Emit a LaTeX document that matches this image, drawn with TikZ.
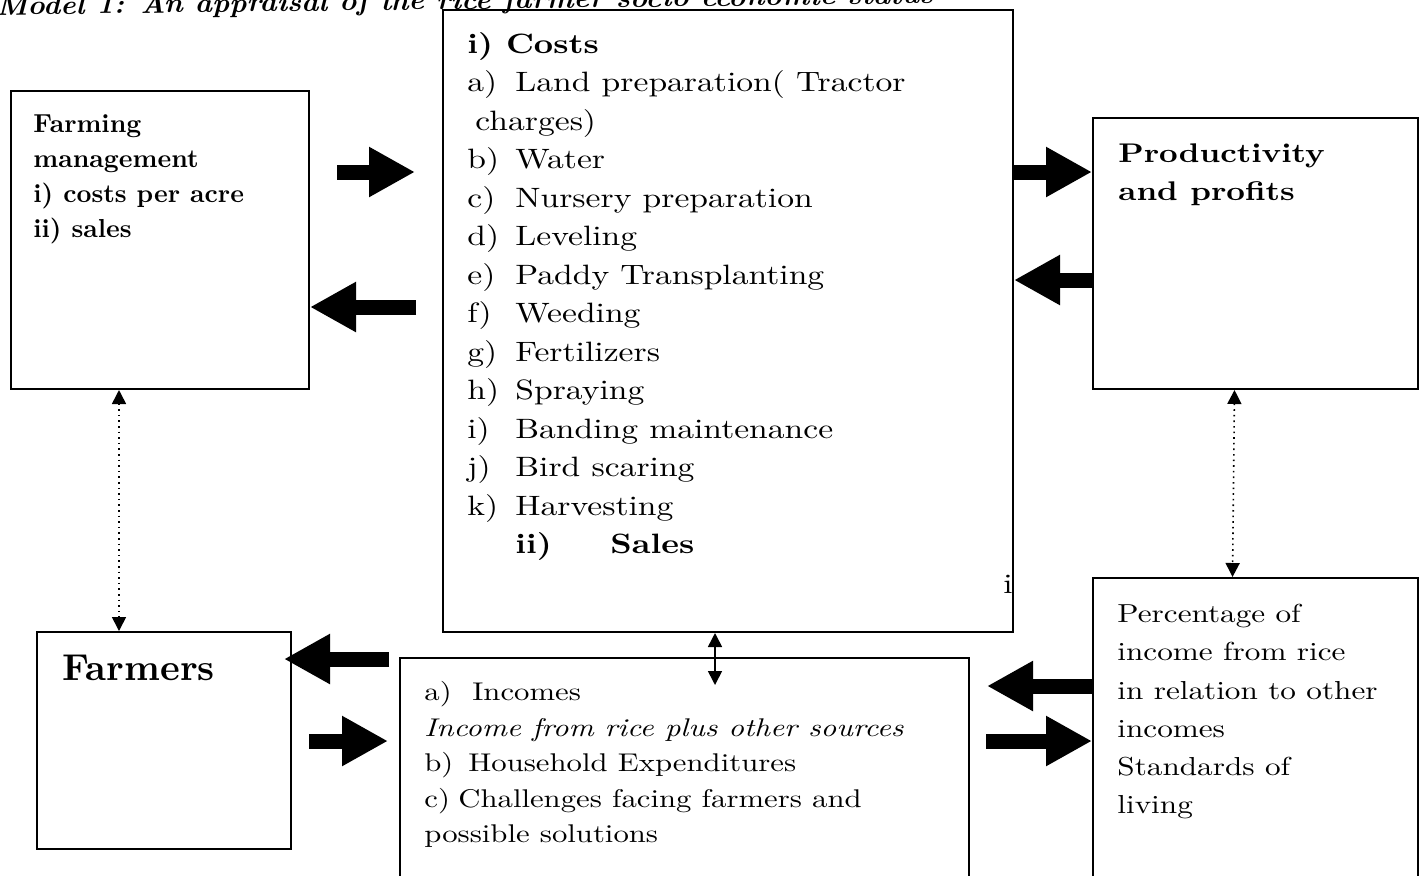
\documentclass[tikz,border=0pt]{standalone}
\usepackage{fontspec}
\setmainfont{lmroman10-regular.otf}[BoldFont=lmroman10-bold.otf, ItalicFont=lmroman10-italic.otf, BoldItalicFont=lmroman10-bolditalic.otf, FakeStretch=1.2]
\usetikzlibrary{arrows.meta}

\newcommand{\itm}[2]{\makebox[24pt][l]{#1}#2}

\tikzset{
  box/.style={draw, line width=1pt, inner sep=0pt},
  txt/.style={anchor=north west, inner sep=0pt, align=left},
  fat/.style={line width=7.5pt, -{Triangle[width=23.5pt,length=23pt]}},
  link/.style={line width=0.8pt, dotted, {Triangle[width=7pt,length=7pt]}-{Triangle[width=7pt,length=7pt]}},
  duo/.style={line width=0.8pt, {Triangle[width=7pt,length=7pt]}-{Triangle[width=7pt,length=7pt]}},
}

\begin{document}
\begin{tikzpicture}[x=0.5pt,y=-0.5pt]
	\useasboundingbox (0,0) rectangle (1423,875);
	\clip (0,0) rectangle (1423,875);

	% title, cut at the top
	\node[anchor=base west, inner sep=0pt, rotate=0.7, font=\fontsize{13.5}{16}\selectfont\bfseries\itshape\addfontfeatures{FakeStretch=1.08}] (title) at (-4,15) {Model 1: An appraisal of the rice farmer socio economic status};

	% boxes
	\node[box, minimum width=149pt, minimum height=149pt] (farming) at (160,240) {};
	\node[box, minimum width=285pt, minimum height=311pt] (cost) at (728,321) {};
	\node[box, minimum width=162.5pt, minimum height=135.5pt] (prod) at (1255.5,253.5) {};
	\node[box, minimum width=127pt, minimum height=108.5pt] (farmers) at (164,740.5) {};
	\node[box, minimum width=284.5pt, minimum height=121pt] (income) at (684.5,779) {};
	\node[box, minimum width=162.5pt, minimum height=161pt] (perc) at (1255.5,739) {};

	% texts
	\node[txt, font=\fontsize{13}{17.6}\selectfont\bfseries\addfontfeatures{FakeStretch=1}] (farmingtxt) at (33,114) {Farming\\management\\i) costs per acre\\ii) sales};
	\node[txt, font=\fontsize{14}{19.25}\selectfont] (costtxt) at (467,32) {\textbf{i) Costs}\\
		\itm{a)}{Land preparation( Tractor}\\
		\hspace{4pt}charges)\\
		\itm{b)}{Water}\\
		\itm{c)}{Nursery preparation}\\
		\itm{d)}{Leveling}\\
		\itm{e)}{Paddy Transplanting}\\
		\itm{f)}{Weeding}\\
		\itm{g)}{Fertilizers}\\
		\itm{h)}{Spraying}\\
		\itm{i)}{Banding maintenance}\\
		\itm{j)}{Bird scaring}\\
		\itm{k)}{Harvesting}\\
		\hspace{24pt}\textbf{\makebox[47.5pt][l]{ii)}Sales}};
	\node[anchor=base west, inner sep=0pt, font=\fontsize{14}{16}\selectfont] (mark) at (1003,593) {i};
	\node[txt, font=\fontsize{13.5}{19}\selectfont\bfseries] (prodtxt) at (1118,143) {Productivity\\and profits};
	\node[txt, font=\fontsize{18.7}{23}\selectfont\bfseries\addfontfeatures{FakeStretch=1}] (farmerstxt) at (62,655) {Farmers};
	\node[txt, font=\fontsize{12.8}{17.75}\selectfont] (incometxt) at (424,681) {\makebox[24pt][l]{a)}Incomes\\
		\textit{Income from rice plus other sources}\\
		\makebox[22pt][l]{b)}Household Expenditures\\
		\makebox[17pt][l]{c)}Challenges facing farmers and\\
		possible solutions};
	\node[txt, font=\fontsize{13}{19.1}\selectfont] (perctxt) at (1117,604) {Percentage of\\income from rice\\in relation to other\\incomes\\Standards of\\living};

	% block arrows
	\draw[fat] ([shift={(27,82)}]farming.north east) -- ([shift={(-27,163)}]cost.north west);
	\draw[fat] ([shift={(-26,298)}]cost.north west) -- ([shift={(0,217)}]farming.north east);
	\draw[fat] ([shift={(0,163)}]cost.north east) -- ([shift={(0,55)}]prod.north west);
	\draw[fat] ([shift={(0,163)}]prod.north west) -- ([shift={(0,271)}]cost.north east);
	\draw[fat] ([shift={(-10,2)}]income.north west) -- ([shift={(-8,28)}]farmers.north east);
	\draw[fat] ([shift={(17,110)}]farmers.north east) -- ([shift={(-11,84)}]income.north west);
	\draw[fat] ([shift={(0,109)}]perc.north west) -- ([shift={(17,29)}]income.north east);
	\draw[fat] ([shift={(16,84)}]income.north east) -- ([shift={(0,164)}]perc.north west);

	% thin links
	\draw[link] ([xshift=-20.5pt]farming.south) -- ([xshift=-22.5pt]farmers.north);
	\draw[link] ([xshift=-10.5pt]prod.south) -- ([xshift=-11.5pt]perc.north);
	\draw[duo] ([xshift=-6.5pt]cost.south) -- ([shift={(30.5,28)}]income.north);
\end{tikzpicture}
\end{document}
